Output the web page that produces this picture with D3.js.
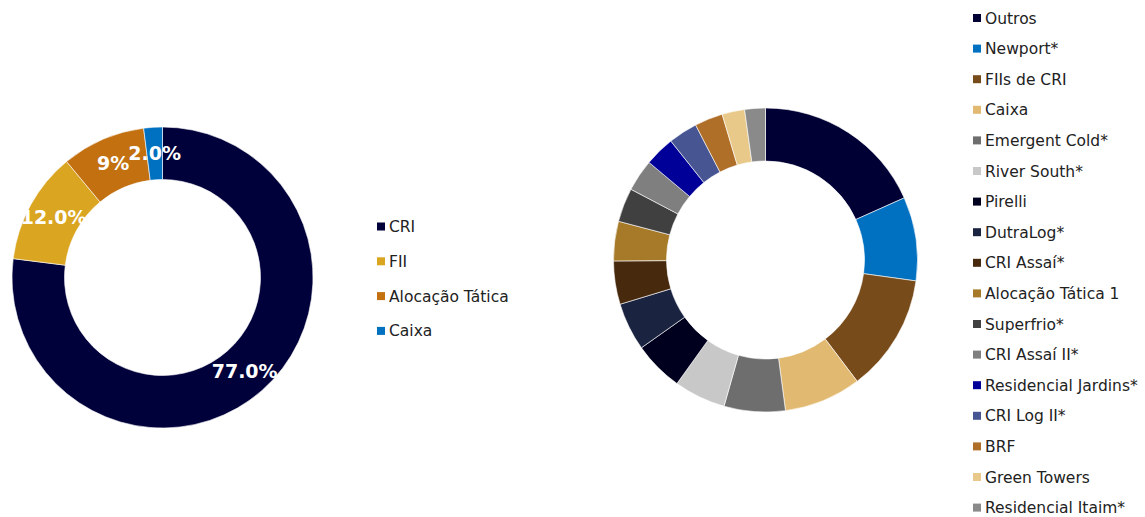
<!DOCTYPE html>
<html>
<head>
<meta charset="utf-8">
<script src="https://cdn.jsdelivr.net/npm/d3@7"></script>
<style>
  html, body { margin: 0; padding: 0; background: #fff; }
  svg { display: block; }
</style>
</head>
<body>
<svg id="chart" width="1145" height="517"></svg>
<script>
// Allocation by asset class (left donut)
const classCategories = ["CRI", "FII", "Alocação Tática", "Caixa"];
const classValues = [77.0, 12.0, 9.0, 2.0];
const classLabels = ["77.0%", "12.0%", "9%", "2.0%"];
const classColors = ["#00003a", "#daa520", "#c27010", "#0070c0"];

// Allocation by position (right donut)
const positionCategories = [
  "Outros", "Newport*", "FIIs de CRI", "Caixa", "Emergent Cold*", "River South*",
  "Pirelli", "DutraLog*", "CRI Assaí*", "Alocação Tática 1", "Superfrio*",
  "CRI Assaí II*", "Residencial Jardins*", "CRI Log II*", "BRF", "Green Towers",
  "Residencial Itaim*"
];
const positionValues = [18.3, 8.9, 12.5, 8.2, 6.5, 5.5, 5.3, 5.1, 4.6, 4.2, 3.6, 3.4, 3.2, 3.1, 3.0, 2.4, 2.2];
const positionColors = [
  "#000035", "#0070c0", "#774b1a", "#e2b970", "#6e6e6e", "#c8c8c8",
  "#00001e", "#1a2340", "#47290d", "#a67a28", "#404040",
  "#7f7f7f", "#000099", "#475693", "#b06f28", "#e8c98a",
  "#8a8a8a"
];

const svg = d3.select("#chart");
const fontFamily = "'DejaVu Sans', sans-serif";

const pie = d3.pie().sort(null).value(d => d.value);

function donut(categories, values, colors, cx, cy, rOuter, rInner) {
  const data = categories.map((c, i) => ({ name: c, value: values[i], color: colors[i] }));
  const arcs = pie(data);
  const arc = d3.arc().innerRadius(rInner).outerRadius(rOuter);
  const g = svg.append("g").attr("transform", `translate(${cx},${cy})`);
  g.selectAll("path")
    .data(arcs)
    .join("path")
    .attr("d", arc)
    .attr("fill", d => d.data.color)
    .attr("stroke", "#ffffff")
    .attr("stroke-width", 0.6);
  return { g, arcs, arc };
}

function legend(categories, colors, x, y0, step, size) {
  const g = svg.append("g");
  const rows = g.selectAll("g")
    .data(categories)
    .join("g")
    .attr("transform", (d, i) => `translate(${x},${y0 + i * step})`);
  rows.append("rect")
    .attr("x", 0).attr("y", -4)
    .attr("width", 8).attr("height", 8)
    .attr("fill", (d, i) => colors[i]);
  rows.append("text")
    .attr("x", 12).attr("y", 0)
    .attr("dy", "0.36em")
    .attr("font-family", fontFamily)
    .attr("font-size", size)
    .attr("fill", "#222222")
    .text(d => d);
}

// Left donut with value labels at slice centroids
const left = donut(classCategories, classValues, classColors, 162.5, 277.5, 150.5, 98);
left.g.selectAll("text")
  .data(left.arcs)
  .join("text")
  .attr("transform", d => `translate(${left.arc.centroid(d)})`)
  .attr("text-anchor", "middle")
  .attr("dy", "0.36em")
  .attr("font-family", fontFamily)
  .attr("font-weight", "bold")
  .attr("font-size", 19)
  .attr("fill", "#ffffff")
  .text((d, i) => classLabels[i]);

legend(classCategories, classColors, 377, 226.5, 34.8, 15.5);

// Right donut
donut(positionCategories, positionValues, positionColors, 765.5, 260, 152, 99);
legend(positionCategories, positionColors, 973, 18, 30.6, 15.5);
</script>
</body>
</html>
